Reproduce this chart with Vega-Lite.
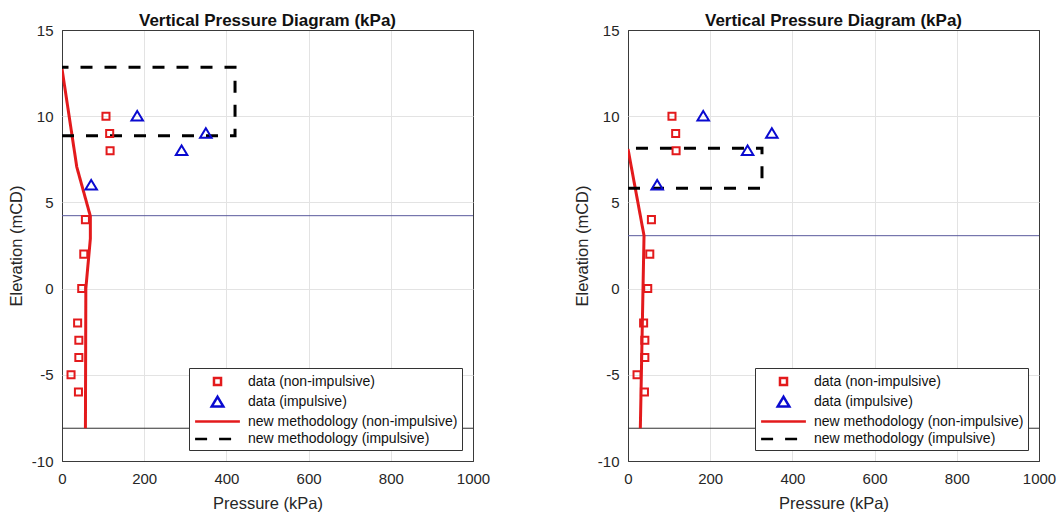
{
  "$schema": "https://vega.github.io/schema/vega-lite/v6.json",
  "padding": {"left": 7, "top": 11, "right": 0, "bottom": 0},
  "background": "white",
  "spacing": 82,
  "resolve": {
    "scale": {"color": "independent", "shape": "independent", "strokeDash": "independent"},
    "legend": {"color": "independent", "shape": "independent", "strokeDash": "independent"}
  },
  "datasets": {
    "points": [
      {"panel": "A", "series": "data (non-impulsive)", "p": 107, "elev": 10},
      {"panel": "A", "series": "data (non-impulsive)", "p": 116, "elev": 9},
      {"panel": "A", "series": "data (non-impulsive)", "p": 117, "elev": 8},
      {"panel": "A", "series": "data (non-impulsive)", "p": 57, "elev": 4},
      {"panel": "A", "series": "data (non-impulsive)", "p": 53, "elev": 2},
      {"panel": "A", "series": "data (non-impulsive)", "p": 48, "elev": 0},
      {"panel": "A", "series": "data (non-impulsive)", "p": 38, "elev": -2},
      {"panel": "A", "series": "data (non-impulsive)", "p": 41, "elev": -3},
      {"panel": "A", "series": "data (non-impulsive)", "p": 41, "elev": -4},
      {"panel": "A", "series": "data (non-impulsive)", "p": 22, "elev": -5},
      {"panel": "A", "series": "data (non-impulsive)", "p": 40, "elev": -6},
      {"panel": "A", "series": "data (impulsive)", "p": 183, "elev": 10},
      {"panel": "A", "series": "data (impulsive)", "p": 350, "elev": 9},
      {"panel": "A", "series": "data (impulsive)", "p": 291, "elev": 8},
      {"panel": "A", "series": "data (impulsive)", "p": 71, "elev": 6},
      {"panel": "B", "series": "data (non-impulsive)", "p": 107, "elev": 10},
      {"panel": "B", "series": "data (non-impulsive)", "p": 116, "elev": 9},
      {"panel": "B", "series": "data (non-impulsive)", "p": 117, "elev": 8},
      {"panel": "B", "series": "data (non-impulsive)", "p": 57, "elev": 4},
      {"panel": "B", "series": "data (non-impulsive)", "p": 53, "elev": 2},
      {"panel": "B", "series": "data (non-impulsive)", "p": 48, "elev": 0},
      {"panel": "B", "series": "data (non-impulsive)", "p": 38, "elev": -2},
      {"panel": "B", "series": "data (non-impulsive)", "p": 41, "elev": -3},
      {"panel": "B", "series": "data (non-impulsive)", "p": 41, "elev": -4},
      {"panel": "B", "series": "data (non-impulsive)", "p": 22, "elev": -5},
      {"panel": "B", "series": "data (non-impulsive)", "p": 40, "elev": -6},
      {"panel": "B", "series": "data (impulsive)", "p": 183, "elev": 10},
      {"panel": "B", "series": "data (impulsive)", "p": 350, "elev": 9},
      {"panel": "B", "series": "data (impulsive)", "p": 291, "elev": 8},
      {"panel": "B", "series": "data (impulsive)", "p": 71, "elev": 6}
    ],
    "lines": [
      {"panel": "A", "series": "new methodology (non-impulsive)", "p": 0, "elev": 12.75, "ord": 1},
      {"panel": "A", "series": "new methodology (non-impulsive)", "p": 36, "elev": 7.05, "ord": 2},
      {"panel": "A", "series": "new methodology (non-impulsive)", "p": 69, "elev": 4.2, "ord": 3},
      {"panel": "A", "series": "new methodology (non-impulsive)", "p": 69, "elev": 2.9, "ord": 4},
      {"panel": "A", "series": "new methodology (non-impulsive)", "p": 58, "elev": 0, "ord": 5},
      {"panel": "A", "series": "new methodology (non-impulsive)", "p": 57, "elev": -8.1, "ord": 6},
      {"panel": "A", "series": "new methodology (impulsive)", "p": 0, "elev": 8.87, "ord": 1},
      {"panel": "A", "series": "new methodology (impulsive)", "p": 421, "elev": 8.87, "ord": 2},
      {"panel": "A", "series": "new methodology (impulsive)", "p": 421, "elev": 12.84, "ord": 3},
      {"panel": "A", "series": "new methodology (impulsive)", "p": 0, "elev": 12.84, "ord": 4},
      {"panel": "B", "series": "new methodology (non-impulsive)", "p": 0, "elev": 8.1, "ord": 1},
      {"panel": "B", "series": "new methodology (non-impulsive)", "p": 39, "elev": 3.07, "ord": 2},
      {"panel": "B", "series": "new methodology (non-impulsive)", "p": 30, "elev": -8.1, "ord": 3},
      {"panel": "B", "series": "new methodology (impulsive)", "p": 0, "elev": 5.82, "ord": 1},
      {"panel": "B", "series": "new methodology (impulsive)", "p": 326, "elev": 5.82, "ord": 2},
      {"panel": "B", "series": "new methodology (impulsive)", "p": 326, "elev": 8.14, "ord": 3},
      {"panel": "B", "series": "new methodology (impulsive)", "p": 0, "elev": 8.14, "ord": 4}
    ],
    "levels": [
      {"panel": "A", "level": "water", "elev": 4.23},
      {"panel": "A", "level": "bed", "elev": -8.1},
      {"panel": "B", "level": "water", "elev": 3.07},
      {"panel": "B", "level": "bed", "elev": -8.1}
    ]
  },
  "hconcat": [
    {
      "width": 411,
      "height": 431,
      "title": {"text": "Vertical Pressure Diagram (kPa)"},
      "layer": [
        {
          "data": {"name": "levels"},
          "transform": [{"filter": "datum.panel === 'A' && datum.level === 'water'"}],
          "mark": {"type": "rule", "stroke": "#5a5a9c", "strokeWidth": 1},
          "encoding": {"y": {"field": "elev", "type": "quantitative", "scale": {"domain": [-10, 15], "nice": false}, "title": "Elevation (mCD)", "axis": {"values": [-10, -5, 0, 5, 10, 15]}}}
        },
        {
          "data": {"name": "levels"},
          "transform": [{"filter": "datum.panel === 'A' && datum.level === 'bed'"}],
          "mark": {"type": "rule", "stroke": "#303030", "strokeWidth": 1},
          "encoding": {"y": {"field": "elev", "type": "quantitative", "scale": {"domain": [-10, 15], "nice": false}, "title": "Elevation (mCD)", "axis": {"values": [-10, -5, 0, 5, 10, 15]}}}
        },
        {
          "data": {"name": "lines"},
          "transform": [{"filter": "datum.panel === 'A'"}],
          "mark": {"type": "line", "strokeWidth": 3, "clip": true},
          "encoding": {
            "x": {"field": "p", "type": "quantitative", "scale": {"domain": [0, 1000], "nice": false}, "title": "Pressure (kPa)", "axis": {"values": [0, 200, 400, 600, 800, 1000]}},
            "y": {"field": "elev", "type": "quantitative", "scale": {"domain": [-10, 15], "nice": false}, "title": "Elevation (mCD)", "axis": {"values": [-10, -5, 0, 5, 10, 15]}},
            "order": {"field": "ord", "type": "quantitative"},
            "color": {"field": "series", "type": "nominal", "legend": {"title": null}, "scale": {"domain": ["data (non-impulsive)", "data (impulsive)", "new methodology (non-impulsive)", "new methodology (impulsive)"], "range": ["#e31a1c", "#0a0ad0", "#e31a1c", "#000000"]}},
            "strokeDash": {"field": "series", "type": "nominal", "legend": {"title": null}, "scale": {"domain": ["data (non-impulsive)", "data (impulsive)", "new methodology (non-impulsive)", "new methodology (impulsive)"], "range": [[1, 0], [1, 0], [1, 0], [12, 12]]}}
          }
        },
        {
          "data": {"name": "points"},
          "transform": [{"filter": "datum.panel === 'A'"}],
          "mark": {"type": "point", "filled": false, "strokeWidth": 2, "size": 256, "opacity": 1},
          "encoding": {
            "x": {"field": "p", "type": "quantitative", "scale": {"domain": [0, 1000], "nice": false}, "title": "Pressure (kPa)", "axis": {"values": [0, 200, 400, 600, 800, 1000]}},
            "y": {"field": "elev", "type": "quantitative", "scale": {"domain": [-10, 15], "nice": false}, "title": "Elevation (mCD)", "axis": {"values": [-10, -5, 0, 5, 10, 15]}},
            "color": {"field": "series", "type": "nominal", "legend": {"title": null}, "scale": {"domain": ["data (non-impulsive)", "data (impulsive)", "new methodology (non-impulsive)", "new methodology (impulsive)"], "range": ["#e31a1c", "#0a0ad0", "#e31a1c", "#000000"]}},
            "shape": {"field": "series", "type": "nominal", "legend": {"title": null}, "scale": {"domain": ["data (non-impulsive)", "data (impulsive)", "new methodology (non-impulsive)", "new methodology (impulsive)"], "range": ["M-0.44,-0.44H0.44V0.44H-0.44Z", "M0,-0.65L0.72,0.55L-0.72,0.55Z", "M-2.8,0H2.8", "M-2.8,0H2.8"]}}
          }
        }
      ]
    },
    {
      "width": 411,
      "height": 431,
      "title": {"text": "Vertical Pressure Diagram (kPa)"},
      "layer": [
        {
          "data": {"name": "levels"},
          "transform": [{"filter": "datum.panel === 'B' && datum.level === 'water'"}],
          "mark": {"type": "rule", "stroke": "#5a5a9c", "strokeWidth": 1},
          "encoding": {"y": {"field": "elev", "type": "quantitative", "scale": {"domain": [-10, 15], "nice": false}, "title": "Elevation (mCD)", "axis": {"values": [-10, -5, 0, 5, 10, 15]}}}
        },
        {
          "data": {"name": "levels"},
          "transform": [{"filter": "datum.panel === 'B' && datum.level === 'bed'"}],
          "mark": {"type": "rule", "stroke": "#303030", "strokeWidth": 1},
          "encoding": {"y": {"field": "elev", "type": "quantitative", "scale": {"domain": [-10, 15], "nice": false}, "title": "Elevation (mCD)", "axis": {"values": [-10, -5, 0, 5, 10, 15]}}}
        },
        {
          "data": {"name": "lines"},
          "transform": [{"filter": "datum.panel === 'B'"}],
          "mark": {"type": "line", "strokeWidth": 3, "clip": true},
          "encoding": {
            "x": {"field": "p", "type": "quantitative", "scale": {"domain": [0, 1000], "nice": false}, "title": "Pressure (kPa)", "axis": {"values": [0, 200, 400, 600, 800, 1000]}},
            "y": {"field": "elev", "type": "quantitative", "scale": {"domain": [-10, 15], "nice": false}, "title": "Elevation (mCD)", "axis": {"values": [-10, -5, 0, 5, 10, 15]}},
            "order": {"field": "ord", "type": "quantitative"},
            "color": {"field": "series", "type": "nominal", "legend": {"title": null}, "scale": {"domain": ["data (non-impulsive)", "data (impulsive)", "new methodology (non-impulsive)", "new methodology (impulsive)"], "range": ["#e31a1c", "#0a0ad0", "#e31a1c", "#000000"]}},
            "strokeDash": {"field": "series", "type": "nominal", "legend": {"title": null}, "scale": {"domain": ["data (non-impulsive)", "data (impulsive)", "new methodology (non-impulsive)", "new methodology (impulsive)"], "range": [[1, 0], [1, 0], [1, 0], [12, 12]]}}
          }
        },
        {
          "data": {"name": "points"},
          "transform": [{"filter": "datum.panel === 'B'"}],
          "mark": {"type": "point", "filled": false, "strokeWidth": 2, "size": 256, "opacity": 1},
          "encoding": {
            "x": {"field": "p", "type": "quantitative", "scale": {"domain": [0, 1000], "nice": false}, "title": "Pressure (kPa)", "axis": {"values": [0, 200, 400, 600, 800, 1000]}},
            "y": {"field": "elev", "type": "quantitative", "scale": {"domain": [-10, 15], "nice": false}, "title": "Elevation (mCD)", "axis": {"values": [-10, -5, 0, 5, 10, 15]}},
            "color": {"field": "series", "type": "nominal", "legend": {"title": null}, "scale": {"domain": ["data (non-impulsive)", "data (impulsive)", "new methodology (non-impulsive)", "new methodology (impulsive)"], "range": ["#e31a1c", "#0a0ad0", "#e31a1c", "#000000"]}},
            "shape": {"field": "series", "type": "nominal", "legend": {"title": null}, "scale": {"domain": ["data (non-impulsive)", "data (impulsive)", "new methodology (non-impulsive)", "new methodology (impulsive)"], "range": ["M-0.44,-0.44H0.44V0.44H-0.44Z", "M0,-0.65L0.72,0.55L-0.72,0.55Z", "M-2.8,0H2.8", "M-2.8,0H2.8"]}}
          }
        }
      ]
    }
  ],
  "config": {
    "font": "Liberation Sans",
    "view": {"stroke": "#3a3a3a", "strokeWidth": 1},
    "title": {"font": "Liberation Sans", "fontSize": 17, "fontWeight": "bold", "color": "#111111", "offset": -7, "anchor": "middle"},
    "axis": {
      "labelFont": "Liberation Sans",
      "labelFontSize": 15,
      "labelColor": "#262626",
      "titleFont": "Liberation Sans",
      "titleFontSize": 16.5,
      "titleFontWeight": "normal",
      "titleColor": "#262626",
      "gridWidth": 1,
      "domain": false,
      "ticks": false,
      "tickSize": 0,
      "labelExpr": "'' + datum.value"
    },
    "axisX": {
      "labelPadding": 10, "titlePadding": 9, "labelFlush": false, "labelOverlap": false,
      "gridColor": {"condition": {"test": "datum.value === 0 || datum.value === 1000", "value": "#3a3a3a"}, "value": "#e3e3e3"}
    },
    "axisY": {
      "labelPadding": 9, "titlePadding": 7, "labelFlush": false, "labelOverlap": false,
      "gridColor": {"condition": {"test": "datum.value === 15 || datum.value === -10", "value": "#3a3a3a"}, "value": "#e3e3e3"}
    },
    "legend": {
      "orient": "bottom-right",
      "offset": 11,
      "padding": 4,
      "strokeColor": "#333333",
      "fillColor": "white",
      "cornerRadius": 0,
      "labelFont": "Liberation Sans",
      "labelFontSize": 14,
      "labelColor": "#111111",
      "labelLimit": 400,
      "symbolSize": 256,
      "symbolStrokeWidth": 2.5,
      "symbolOffset": 15,
      "labelOffset": 21,
      "rowPadding": 0.5
    }
  }
}
